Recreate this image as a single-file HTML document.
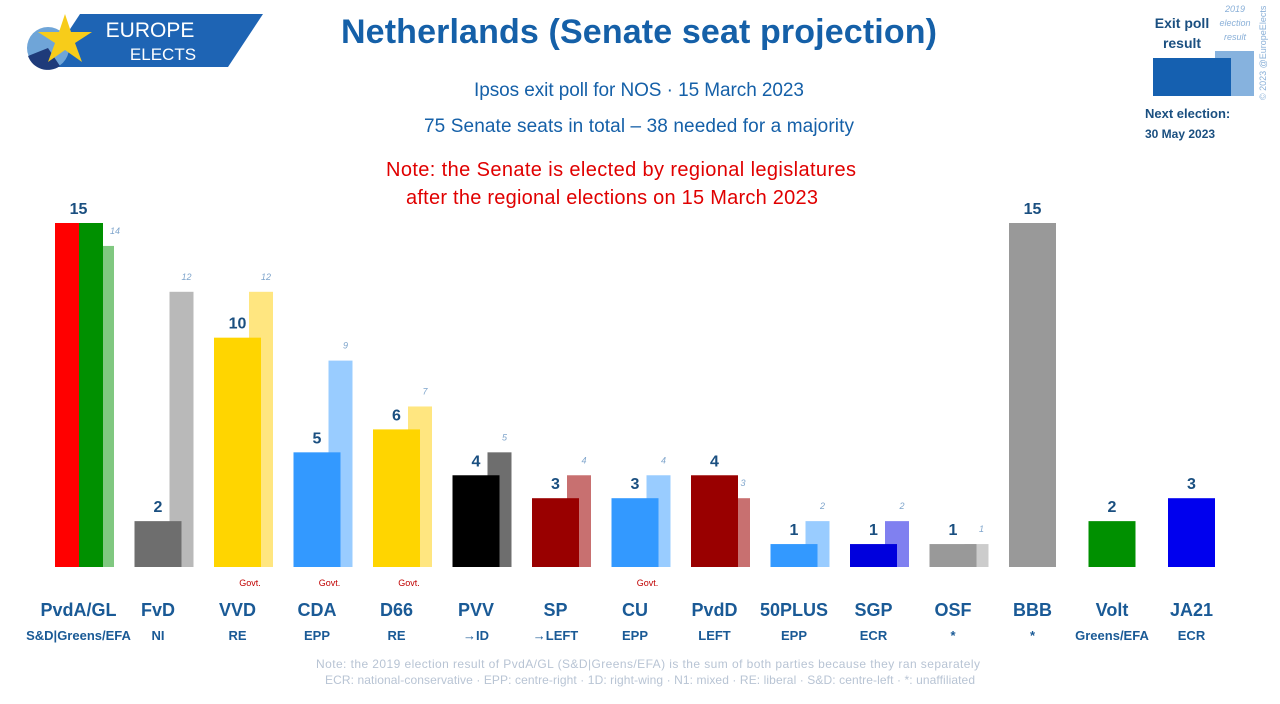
<!DOCTYPE html>
<html><head><meta charset="utf-8"><style>
body{margin:0;background:#fff;}
svg{display:block;font-family:"Liberation Sans",sans-serif;}
</style></head><body>
<svg id="chart" width="1280" height="704" viewBox="0 0 1280 704">
  <g>
    <polygon points="80,14 263,14 228,67 45,67" fill="#1e64b4"/>
    <circle cx="48" cy="48" r="21" fill="#6fa5d8"/>
    <path d="M48,48 L28,56 A21,21 0 0,0 60,66 Z" fill="#1f3b7a"/>
    <polygon points="65,14 71,32 92,32 75,43 82,62 65,50 48,62 55,43 38,32 59,32" fill="#f7cc1a"/>
    <text x="150" y="37" font-size="21" fill="#fff" text-anchor="middle">EUROPE</text>
    <text x="163" y="60" font-size="17" fill="#fff" text-anchor="middle">ELECTS</text>
  </g>
  <text x="639" y="43" font-size="34" font-weight="bold" fill="#1560a8" text-anchor="middle" textLength="596">Netherlands (Senate seat projection)</text>
  <text x="639" y="96" font-size="19" fill="#1560a8" text-anchor="middle" textLength="330">Ipsos exit poll for NOS · 15 March 2023</text>
  <text x="639" y="132" font-size="19" fill="#1560a8" text-anchor="middle" textLength="430">75 Senate seats in total – 38 needed for a majority</text>
  <text x="621" y="176" font-size="20" fill="#e00000" text-anchor="middle" textLength="470">Note: the Senate is elected by regional legislatures</text>
  <text x="612" y="204" font-size="20" fill="#e00000" text-anchor="middle" textLength="412">after the regional elections on 15 March 2023</text>

  <g>
    <text x="1182" y="28" font-size="14" font-weight="bold" fill="#1a4f80" text-anchor="middle">Exit poll</text>
    <text x="1182" y="48" font-size="14" font-weight="bold" fill="#1a4f80" text-anchor="middle">result</text>
    <text x="1235" y="12" font-size="9" font-style="italic" fill="#8ab0d8" text-anchor="middle">2019</text>
    <text x="1235" y="26" font-size="9" font-style="italic" fill="#8ab0d8" text-anchor="middle">election</text>
    <text x="1235" y="40" font-size="9" font-style="italic" fill="#8ab0d8" text-anchor="middle">result</text>
    <rect x="1215" y="51" width="39" height="45" fill="#86b2de"/>
    <rect x="1153" y="58" width="78" height="38" fill="#1560b0"/>
    <text x="1266" y="100" font-size="9" fill="#8ab0d8" transform="rotate(-90 1266 100)">© 2023 @EuropeElects</text>
    <text x="1145" y="118" font-size="13" font-weight="bold" fill="#1a4f80">Next election:</text>
    <text x="1145" y="138" font-size="12" font-weight="bold" fill="#1a4f80">30 May 2023</text>
  </g>

  <g id="bars"></g>
  <g id="labels"></g>

  <text x="648" y="668" font-size="12" fill="#b8c4d4" text-anchor="middle" textLength="664">Note: the 2019 election result of PvdA/GL (S&amp;D|Greens/EFA) is the sum of both parties because they ran separately</text>
  <text x="650" y="684" font-size="12" fill="#b8c4d4" text-anchor="middle" textLength="650">ECR: national-conservative · EPP: centre-right · 1D: right-wing · N1: mixed · RE: liberal · S&amp;D: centre-left · *: unaffiliated</text>
</svg>
<script>
const parties = ["PvdA/GL","FvD","VVD","CDA","D66","PVV","SP","CU","PvdD","50PLUS","SGP","OSF","BBB","Volt","JA21"];
const groups = ["S&D|Greens/EFA","NI","RE","EPP","RE","→ID","→LEFT","EPP","LEFT","EPP","ECR","*","*","Greens/EFA","ECR"];
const seats = [15,2,10,5,6,4,3,3,4,1,1,1,15,2,3];
const seats2019 = [14,12,12,9,7,5,4,4,3,2,2,1,null,null,null];
const govt = [false,false,true,true,true,false,false,true,false,false,false,false,false,false,false];
const colors = ["#009000","#6e6e6e","#ffd500","#3399ff","#ffd500","#000000","#990000","#3399ff","#990000","#3399ff","#0000dd","#999999","#999999","#009000","#0000ee"];
const colors2019 = ["#80c880","#b9b9b9","#ffe680","#99ccff","#ffe680","#6e6e6e","#c87070","#99ccff","#c87070","#99ccff","#8080f0","#cccccc","#ccc","#ccc","#ccc"];

const NS="http://www.w3.org/2000/svg";
const base=567, perSeat=344/15, x0=55, step=79.5, mainW=47;
const yScale=v=>base-v*perSeat;
const xStart=i=>x0+i*step;
const bars=document.getElementById('bars'), labels=document.getElementById('labels');
function mk(tag,attrs,parent){const e=document.createElementNS(NS,tag);for(const k in attrs)e.setAttribute(k,attrs[k]);parent.appendChild(e);return e;}
function txt(x,y,s,attrs,parent){const e=mk('text',Object.assign({x:x,y:y,'text-anchor':'middle'},attrs),parent);e.textContent=s;return e;}
parties.forEach((p,i)=>{
  const xs=xStart(i), cm=xs+mainW/2;
  if(seats2019[i]!==null){
    const r=mk('rect',{x:xs+35,y:yScale(seats2019[i]),width:24,height:seats2019[i]*perSeat,fill:colors2019[i]},bars);
    
    
    const lx = i===0 ? xs+60 : xs+52;
    const t=txt(lx,yScale(seats2019[i])-12,String(seats2019[i]),{'font-size':9,'font-style':'italic',fill:'#7fa5cc'},labels);
    
    
  }
  if(i===0){
    const h=seats[i]*perSeat;
    const r1=mk('rect',{x:xs,y:yScale(seats[i]),width:24,height:h,fill:'#ff0000'},bars);
    
    
    const r2=mk('rect',{x:xs+24,y:yScale(seats[i]),width:24,height:h,fill:'#009000'},bars);
    
    
  } else {
    const r=mk('rect',{x:xs,y:yScale(seats[i]),width:mainW,height:seats[i]*perSeat,fill:colors[i]},bars);
    
    
  }
  const v=txt(cm,yScale(seats[i])-9,String(seats[i]),{'font-size':16,'font-weight':'bold',fill:'#1a4f80'},labels);
  
  
  const n=txt(cm,616,p,{'font-size':18,'font-weight':'bold',fill:'#1a5a96'},labels);
  
  
  const g=txt(cm,640,groups[i],{'font-size':13,'font-weight':'bold',fill:'#1a5a96'},labels);
  
  
  if(govt[i]){
    const gv=txt(xs+36,586,'Govt.',{'font-size':9,fill:'#c00000'},labels);
    
    
  }
});
</script>
</body></html>
